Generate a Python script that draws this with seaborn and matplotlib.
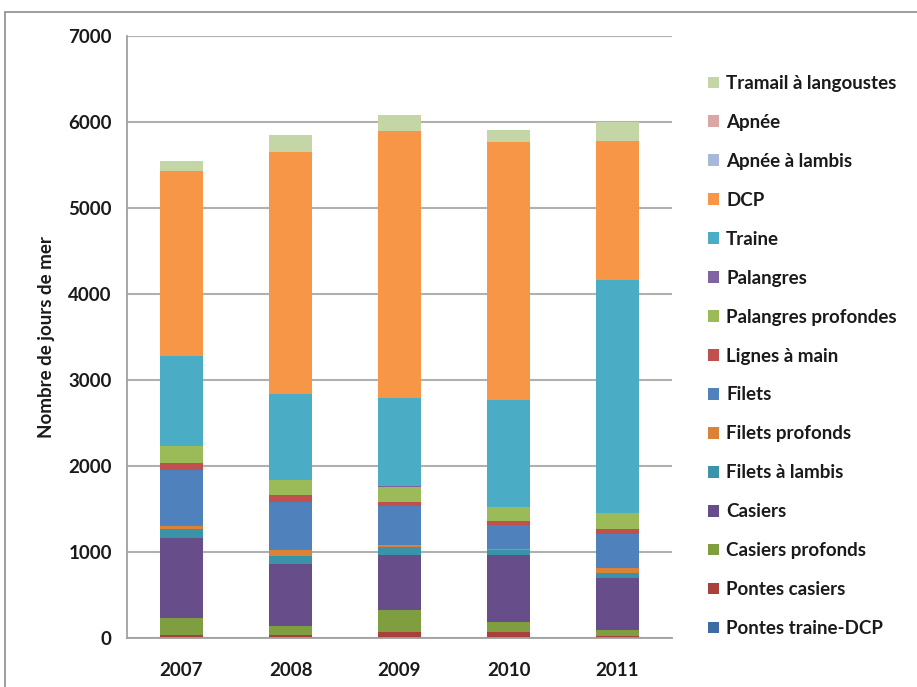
import numpy as np
import pandas as pd
import matplotlib
matplotlib.use("Agg")
import matplotlib.pyplot as plt
from matplotlib.patches import Patch, Rectangle
import seaborn as sns

years = ["2007", "2008", "2009", "2010", "2011"]

# series listed bottom -> top of the stack
series_names = [
    "Pontes traine-DCP", "Pontes casiers", "Casiers profonds", "Casiers",
    "Filets à lambis", "Filets profonds", "Filets", "Lignes à main",
    "Palangres profondes", "Palangres", "Traine", "DCP",
    "Apnée à lambis", "Apnée", "Tramail à langoustes",
]
pontes_traine_dcp = [5, 5, 10, 10, 5]
pontes_casiers = [30, 30, 55, 60, 15]
casiers_profonds = [195, 100, 260, 115, 75]
casiers = [930, 726, 640, 775, 600]
filets_lambis = [108, 89, 97, 63, 58]
filets_profonds = [40, 70, 15, 10, 66]
filets = [640, 558, 460, 279, 388]
lignes_main = [85, 89, 39, 46, 58]
palangres_profondes = [194, 174, 178, 167, 186]
palangres = [0, 0, 10, 0, 0]
traine = [1048, 1001, 1027, 1247, 2708]
dcp = [2152, 2809, 3104, 2995, 1620]
apnee_lambis = [0, 0, 5, 0, 0]
apnee = [0, 0, 0, 0, 0]
tramail = [116, 194, 183, 136, 221]

values = [pontes_traine_dcp, pontes_casiers, casiers_profonds, casiers,
          filets_lambis, filets_profonds, filets, lignes_main,
          palangres_profondes, palangres, traine, dcp,
          apnee_lambis, apnee, tramail]

colors = ["#3D6BA6", "#A8403C", "#7E9E40", "#674E8A", "#3A93A8", "#DA8237",
          "#4F81BD", "#C0504D", "#9BBB59", "#8064A2", "#4BACC6", "#F79646",
          "#A7B9DB", "#DBA7A6", "#C4D6A6"]

FONT = ["Lato", "DejaVu Sans"]
FS = 13.5
sns.set_style("white")
plt.rcParams["font.family"] = FONT

fig = plt.figure(figsize=(9.17, 6.87), dpi=100)
ax = fig.add_axes([127/917, 1-638/687, (672-127)/917, (638-36)/687])

cum = np.cumsum(np.array(values, dtype=float), axis=0)
# draw from the top-most cumulative down so lower segments overlay
for i in range(len(series_names) - 1, -1, -1):
    df = pd.DataFrame({"year": years, "value": cum[i]})
    sns.barplot(data=df, x="year", y="value", color=colors[i], saturation=1,
                width=0.40, ax=ax, linewidth=0, edgecolor="none")

ax.set_ylim(0, 7000)
ax.set_xlim(-0.5, 4.5)
ax.set_yticks(np.arange(0, 7001, 1000))
ax.yaxis.grid(True, color="#B0B0B0", linewidth=1.5)
ax.set_axisbelow(True)
for s in ["top", "right"]:
    ax.spines[s].set_visible(False)
for s in ["left", "bottom"]:
    ax.spines[s].set_color("#A0A0A0")
    ax.spines[s].set_linewidth(1.3)

ax.tick_params(axis="y", length=4, width=1.2, color="#A0A0A0", pad=7,
               labelsize=FS, labelcolor="#1A1A1A")
ax.set_xticks(range(5))
ax.set_xticklabels(years)
ax.tick_params(axis="x", which="major", length=0, pad=17, labelsize=FS,
               labelcolor="#1A1A1A")
ax.set_xticks(np.arange(-0.5, 5, 1), minor=True)
ax.tick_params(axis="x", which="minor", length=5, width=1.2, color="#A0A0A0",
               direction="out")
for lab in ax.get_xticklabels() + ax.get_yticklabels():
    lab.set_fontweight("bold")

ax.set_xlabel("")
ax.set_ylabel("Nombre de jours de mer", fontsize=FS, fontweight="bold",
              color="#1A1A1A")
ax.yaxis.set_label_coords(-0.132, 0.5)

handles = [Patch(facecolor=colors[i], edgecolor="none", label=series_names[i])
           for i in range(len(series_names) - 1, -1, -1)]
leg = fig.legend(handles=handles, loc="upper left",
                 bbox_to_anchor=(708/917, 1-75/687), frameon=False,
                 prop={"family": FONT, "weight": "bold", "size": FS},
                 handlelength=0.58, handleheight=0.58, handletextpad=0.38,
                 labelspacing=1.17, borderaxespad=0, borderpad=0)
for t in leg.get_texts():
    t.set_color("#1A1A1A")

fig.patches.append(Rectangle((5/917, -0.02), 1.0, 1-12/687+0.02,
                             transform=fig.transFigure, fill=False,
                             edgecolor="#8C8C8C", linewidth=1.2))

fig.savefig("out.png", dpi=100)
